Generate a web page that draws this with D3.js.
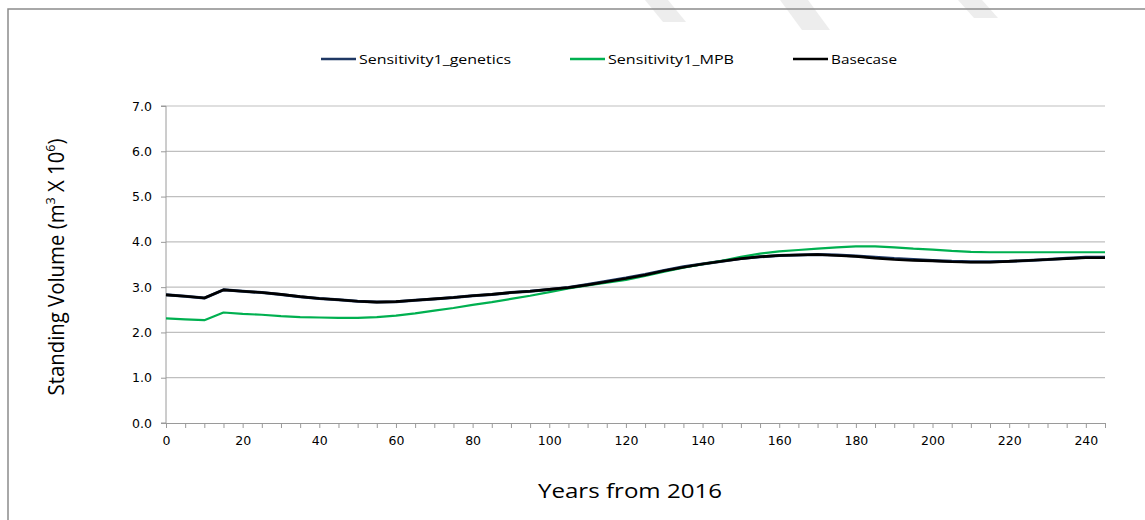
<!DOCTYPE html>
<html>
<head>
<meta charset="utf-8">
<script src="https://cdn.jsdelivr.net/npm/d3@7"></script>
<style>
  html, body { margin: 0; padding: 0; background: #fff; }
  svg { display: block; }
  .tick text { font-family: "DejaVu Sans", sans-serif; font-size: 12.5px; fill: #000; }
</style>
</head>
<body>
<svg id="chart" width="1145" height="520"></svg>
<script>
// Years from 2016, in 5-year steps
const years = [0,5,10,15,20,25,30,35,40,45,50,55,60,65,70,75,80,85,90,95,100,105,110,115,120,125,130,135,140,145,150,155,160,165,170,175,180,185,190,195,200,205,210,215,220,225,230,235,240,245];

// Standing volume (m3 x 10^6) per scenario
const basecase = [2.83,2.80,2.76,2.94,2.91,2.88,2.84,2.79,2.75,2.72,2.69,2.67,2.68,2.71,2.74,2.77,2.81,2.84,2.88,2.91,2.95,2.99,3.05,3.12,3.19,3.27,3.36,3.44,3.51,3.57,3.63,3.67,3.70,3.71,3.72,3.70,3.68,3.64,3.61,3.59,3.58,3.56,3.55,3.55,3.57,3.59,3.61,3.63,3.65,3.65];
const genetics = [2.83,2.80,2.76,2.94,2.91,2.88,2.84,2.79,2.75,2.72,2.69,2.67,2.68,2.71,2.74,2.77,2.81,2.84,2.88,2.91,2.95,2.99,3.06,3.13,3.20,3.28,3.37,3.45,3.51,3.57,3.63,3.67,3.70,3.71,3.72,3.71,3.69,3.66,3.63,3.61,3.59,3.57,3.56,3.56,3.57,3.59,3.61,3.64,3.66,3.66];
const mpb      = [2.31,2.29,2.27,2.44,2.41,2.39,2.36,2.34,2.33,2.32,2.32,2.34,2.37,2.42,2.48,2.54,2.61,2.67,2.74,2.81,2.89,2.97,3.04,3.10,3.16,3.25,3.34,3.43,3.51,3.58,3.67,3.74,3.79,3.82,3.85,3.88,3.90,3.90,3.88,3.85,3.83,3.80,3.78,3.77,3.77,3.77,3.77,3.77,3.77,3.77];

const seriesNames  = ["Sensitivity1_genetics", "Sensitivity1_MPB", "Basecase"];
const seriesColors = ["#1f3864", "#00b050", "#000000"];
const seriesWidths = [3, 2.2, 2.6];
const seriesValues = [genetics, mpb, basecase];

const yTicks = [0,1,2,3,4,5,6,7];
const xMinorTicks = d3.range(0, 246, 5);

const svg = d3.select("#chart");

// faint watermark strokes along the top edge
const marks = [
  [[645,0],[668,0],[686,22],[663,22]],
  [[780,0],[808,0],[830,30],[802,30]],
  [[958,0],[982,0],[998,18],[974,18]]
];
svg.append("g").selectAll("path").data(marks).join("path")
  .attr("d", d => "M" + d.join("L") + "Z")
  .attr("fill", "#ededed");

// outer frame
svg.append("path")
  .attr("d", "M8,522 L8,9 L1147,9")
  .attr("fill", "none").attr("stroke", "#8c8c8c").attr("stroke-width", 1.5);

const x = d3.scaleLinear().domain([0, 245]).range([166, 1105]);
const y = d3.scaleLinear().domain([0, 7]).range([423, 106]);

// horizontal gridlines
svg.append("g").selectAll("line").data(yTicks.filter(v => v > 0)).join("line")
  .attr("x1", x(0)).attr("x2", x(245))
  .attr("y1", d => y(d)).attr("y2", d => y(d))
  .attr("stroke", "#bfbfbf").attr("stroke-width", 1.2);

// y axis
const yAxis = svg.append("g").attr("transform", `translate(${x(0)},0)`)
  .call(d3.axisLeft(y).tickValues(yTicks).tickFormat(d3.format(".1f")).tickSize(5).tickPadding(9));
yAxis.selectAll("line, path").attr("stroke", "#9a9a9a");
yAxis.select(".domain").attr("d", `M-5,${y(7)}H0V${y(0)}H-5`);

// x axis: minor ticks every 5 years, labels every 20
const xAxis = svg.append("g").attr("transform", `translate(0,${y(0)})`)
  .call(d3.axisBottom(x).tickValues(xMinorTicks).tickSize(5).tickSizeOuter(0)
    .tickFormat(d => (d % 20 === 0 ? d : "")).tickPadding(6));
xAxis.selectAll("line, path").attr("stroke", "#9a9a9a");
xAxis.selectAll(".tick text").attr("dy", "0.85em");

// series lines
const line = d3.line()
  .x((d, i) => x(years[i]))
  .y(d => y(d))
  .curve(d3.curveLinear);

svg.append("g").selectAll("path").data(seriesValues).join("path")
  .attr("d", d => line(d))
  .attr("fill", "none")
  .attr("stroke", (d, i) => seriesColors[i])
  .attr("stroke-width", (d, i) => seriesWidths[i])
  .attr("stroke-linejoin", "round");

// legend
const legendX = [321, 570, 793];
const legendTextW = [152, 126, 66];
const lg = svg.append("g").selectAll("g").data(seriesNames).join("g")
  .attr("transform", (d, i) => `translate(${legendX[i]},59)`);
lg.append("line").attr("x1", 0).attr("x2", 35).attr("y1", 0).attr("y2", 0)
  .attr("stroke", (d, i) => seriesColors[i]).attr("stroke-width", 2.6);
lg.append("text").attr("x", 38).attr("y", 0).attr("dy", "0.35em")
  .attr("font-family", "'Open Sans', sans-serif").attr("font-size", 13.5)
  .attr("textLength", (d, i) => legendTextW[i]).attr("lengthAdjust", "spacingAndGlyphs")
  .text(d => d);

// axis titles
svg.append("text")
  .attr("x", 630).attr("y", 498)
  .attr("text-anchor", "middle")
  .attr("font-family", "'Open Sans', sans-serif").attr("font-size", 20)
  .attr("textLength", 184).attr("lengthAdjust", "spacingAndGlyphs")
  .text("Years from 2016");

const yt = svg.append("text")
  .attr("transform", "translate(64,267) rotate(-90)")
  .attr("text-anchor", "middle")
  .attr("font-family", "'Open Sans', sans-serif").attr("font-size", 21)
  .attr("textLength", 257).attr("lengthAdjust", "spacingAndGlyphs");
yt.append("tspan").text("Standing Volume (m");
yt.append("tspan").attr("baseline-shift", "super").attr("font-size", 13).text("3");
yt.append("tspan").text(" X 10");
yt.append("tspan").attr("baseline-shift", "super").attr("font-size", 13).text("6");
yt.append("tspan").text(")");
</script>
</body>
</html>
